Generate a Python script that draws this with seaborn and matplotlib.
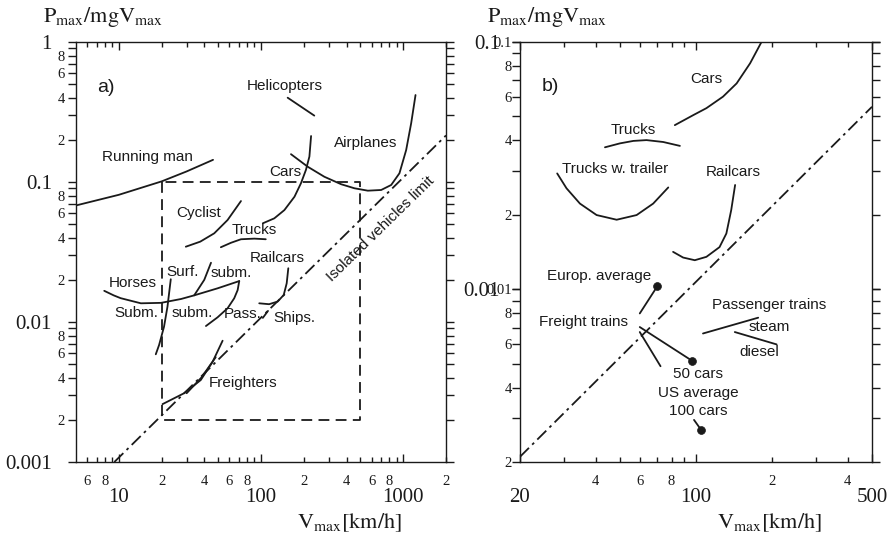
import matplotlib
matplotlib.use("Agg")
import matplotlib.pyplot as plt
import seaborn as sns

# ---------------- panel a) : overview ----------------
running_v = [5, 10, 20, 30, 46]
running_p = [0.068, 0.081, 0.101, 0.119, 0.144]

heli_v = [154, 237]
heli_p = [0.40, 0.298]

cars_a_v = [103, 124, 146, 172, 191, 207, 219, 225]
cars_a_p = [0.0507, 0.055, 0.063, 0.0785, 0.098, 0.122, 0.152, 0.213]

planes_v = [162.5, 213, 279, 366, 454, 564, 700, 823, 941, 1049, 1138, 1221]
planes_p = [0.158, 0.1286, 0.109, 0.0964, 0.0902, 0.0867, 0.0877, 0.0952,
            0.1154, 0.169, 0.263, 0.418]

cyclist_v = [29.6, 37.4, 46.9, 58.2, 72.3]
cyclist_p = [0.0345, 0.0375, 0.043, 0.0535, 0.0731]

trucks_a_v = [52.2, 61.5, 72.3, 89.8, 108]
trucks_a_p = [0.0342, 0.0368, 0.039, 0.0394, 0.039]

horses_v = [7.9, 9.2, 10.3, 14.3, 19.8, 27.4, 33.9, 49.5, 70.3]
horses_p = [0.0167, 0.0155, 0.0148, 0.0136, 0.0137, 0.0146, 0.0155, 0.0174, 0.0196]

subm_v = [70.3, 68.5, 64.8, 58.2, 49.5, 41.0]
subm_p = [0.0196, 0.0169, 0.01477, 0.01253, 0.0108, 0.00936]

surf_v = [33.9, 39.9, 44.5]
surf_p = [0.0155, 0.020, 0.0265]

subm_deep_v = [23.2, 22.0, 20.8, 19.2, 18.2]
subm_deep_p = [0.0202, 0.0129, 0.00926, 0.00685, 0.00588]

railcars_a_v = [155.6, 151.6, 144.5, 131, 114, 97.2]
railcars_a_p = [0.0242, 0.0189, 0.0156, 0.0140, 0.0134, 0.0136]

pass_v = [103, 112]
pass_p = [0.0107, 0.012]

freighters_v = [20.3, 28.8, 37.7, 45.7, 53.7]
freighters_p = [0.00259, 0.0031, 0.00385, 0.0052, 0.00735]

freighters2_v = [30, 38, 48]
freighters2_p = [0.0031, 0.0040, 0.0056]

limit_a_v = [9.3, 2000]
limit_a_p = [0.001, 0.215]

box_v = [20, 20, 500, 500, 20]
box_p = [0.1, 0.002, 0.002, 0.1, 0.1]

# ---------------- panel b) : ground vehicles ----------------
cars_b_v = [82.4, 97.5, 110, 128, 145, 164, 182]
cars_b_p = [0.0461, 0.0506, 0.054, 0.0601, 0.068, 0.082, 0.1]

trucks_b_v = [43.5, 49.9, 56.4, 63.6, 74.1, 86.3]
trucks_b_p = [0.0375, 0.0389, 0.0398, 0.0401, 0.0394, 0.038]

trailer_v = [28.1, 30.6, 34.6, 40.3, 48.4, 58.1, 67.6, 77.6]
trailer_p = [0.0294, 0.0256, 0.0222, 0.01995, 0.0191, 0.01995, 0.0222, 0.0258]

railcars_b_v = [81.1, 88.9, 98.9, 110, 124, 132, 138, 143]
railcars_b_p = [0.01416, 0.01343, 0.0131, 0.01352, 0.0148, 0.0168, 0.0209, 0.0264]

limit_b_v = [20, 500]
limit_b_p = [0.0021, 0.0547]

europ_v = [59.8, 70.3]
europ_p = [0.00798, 0.0103]

freight50_v = [59.8, 96.6]
freight50_p = [0.00703, 0.00513]

freight100_v = [59.8, 72.3]
freight100_p = [0.00671, 0.00488]

us100_v = [98.2, 105]
us100_p = [0.00296, 0.00269]

steam_v = [106.6, 176.6]
steam_p = [0.00662, 0.00767]

diesel_v = [142.6, 209]
diesel_p = [0.00671, 0.00598]

dots_v = [70.3, 96.6, 105]
dots_p = [0.0103, 0.00513, 0.00269]

# ---------------- text ----------------
labels_a = [
    ("a)", 8.1, 0.475, 14),
    ("Helicopters", 146, 0.485, 11),
    ("Airplanes", 548, 0.191, 11),
    ("Running man", 15.9, 0.152, 11),
    ("Cars", 148, 0.1185, 11),
    ("Cyclist", 36.7, 0.0598, 11),
    ("Trucks", 89.8, 0.0454, 11),
    ("Railcars", 131, 0.0285, 11),
    ("Horses", 12.5, 0.0191, 11),
    ("Surf.", 28.1, 0.0229, 11),
    ("subm.", 61.5, 0.0223, 11),
    ("Subm.", 13.2, 0.01165, 11),
    ("subm.", 33.0, 0.01165, 11),
    ("Pass.", 74.3, 0.0114, 11),
    ("Ships.", 172, 0.0106, 11),
    ("Freighters", 74.3, 0.00365, 11),
]

labels_b = [
    ("b)", 26.3, 0.0659, 14),
    ("Cars", 110, 0.0706, 11),
    ("Trucks", 56.4, 0.0441, 11),
    ("Trucks w. trailer", 47.6, 0.0305, 11),
    ("Railcars", 141, 0.0299, 11),
    ("Europ. average", 41.3, 0.0113, 11),
    ("Freight trains", 35.9, 0.00738, 11),
    ("50 cars", 102, 0.00456, 11),
    ("US average", 102, 0.00382, 11),
    ("100 cars", 102, 0.00321, 11),
    ("Passenger trains", 196, 0.00861, 11),
    ("steam", 196, 0.00703, 11),
    ("diesel", 179, 0.00555, 11),
]

# tick positions and labels
xa_major = [10, 100, 1000]
xa_major_lab = ["10", "100", "1000"]
xa_minor = [6, 7, 8, 9, 20, 30, 40, 50, 60, 70, 80, 90,
            200, 300, 400, 500, 600, 700, 800, 900, 2000]
xa_minor_lab = ["6", "", "8", "", "2", "", "4", "", "6", "", "8", "",
                "2", "", "4", "", "6", "", "8", "", "2"]
ya_major = [0.001, 0.01, 0.1, 1]
ya_major_lab = ["0.001", "0.01", "0.1", "1"]
ya_minor = [m * d for d in (0.001, 0.01, 0.1) for m in range(2, 10)]
ya_minor_lab = [{2: "2", 4: "4", 6: "6", 8: "8"}.get(m, "")
                for d in (0.001, 0.01, 0.1) for m in range(2, 10)]

xb_major = [20, 100, 500]
xb_major_lab = ["20", "100", "500"]
xb_minor = [30, 40, 50, 60, 70, 80, 90, 200, 300, 400]
xb_minor_lab = ["", "4", "", "6", "", "8", "", "2", "", "4"]
yb_major = [0.01, 0.1]
yb_major_lab = ["0.01", "0.1"]
yb_minor = [0.002, 0.003, 0.004, 0.005, 0.006, 0.007, 0.008, 0.009, 0.01,
            0.02, 0.03, 0.04, 0.05, 0.06, 0.07, 0.08, 0.09, 0.1]
yb_minor_lab = ["2", "", "4", "", "6", "", "8", "", "0.01",
                "2", "", "4", "", "6", "", "8", "", "0.1"]

# ---------------- style ----------------
sns.set_theme(style="ticks")
plt.rcParams["font.family"] = ["Liberation Sans", "DejaVu Sans"]
plt.rcParams["mathtext.fontset"] = "stix"
plt.rcParams["axes.linewidth"] = 1.0
plt.rcParams["axes.edgecolor"] = "#1a1a1a"

INK = "#1a1a1a"
SERIF = "Liberation Serif"
DASHDOT = (0, (7, 2.5, 1.5, 2.5))
DASHED = (0, (6, 3.5))

fig = plt.figure(figsize=(8.9, 5.38), dpi=100)
ax_a = fig.add_axes([76 / 890, 76 / 538, 370 / 890, 420 / 538])
ax_b = fig.add_axes([520 / 890, 76 / 538, 352 / 890, 420 / 538])


def curve(ax, v, p, ls="-"):
    sns.lineplot(x=v, y=p, ax=ax, sort=False, estimator=None, color=INK,
                 linewidth=1.3, linestyle=ls)


def setup_axes(ax, xlim, ylim, xmaj, xmaj_lab, xmin, xmin_lab,
               ymaj, ymaj_lab, ymin, ymin_lab, ypad_major, ypad_minor):
    ax.set_xscale("log")
    ax.set_yscale("log")
    ax.set_xlim(*xlim)
    ax.set_ylim(*ylim)
    ax.xaxis.remove_overlapping_locs = False
    ax.yaxis.remove_overlapping_locs = False
    ax.set_xticks(xmaj, xmaj_lab, fontfamily=SERIF)
    ax.set_xticks(xmin, xmin_lab, minor=True, fontfamily=SERIF)
    ax.set_yticks(ymaj, ymaj_lab, fontfamily=SERIF)
    ax.set_yticks(ymin, ymin_lab, minor=True, fontfamily=SERIF)
    ax.tick_params(axis="x", which="both", direction="in", top=True,
                   colors=INK, width=1.0)
    ax.tick_params(axis="x", which="major", length=5.5, pad=19, labelsize=15)
    ax.tick_params(axis="x", which="minor", length=3.5, pad=9.5, labelsize=10.5)
    ax.tick_params(axis="y", which="both", direction="out", right=True,
                   colors=INK, width=1.0, length=5.5)
    ax.tick_params(axis="y", which="major", pad=ypad_major, labelsize=15)
    ax.tick_params(axis="y", which="minor", pad=ypad_minor, labelsize=10.5)
    ax.set_xlabel("")
    ax.set_ylabel("")


# panel a
for v, p in [(running_v, running_p), (heli_v, heli_p), (cars_a_v, cars_a_p),
             (planes_v, planes_p), (cyclist_v, cyclist_p),
             (trucks_a_v, trucks_a_p), (horses_v, horses_p),
             (subm_v, subm_p), (surf_v, surf_p), (subm_deep_v, subm_deep_p),
             (railcars_a_v, railcars_a_p), (pass_v, pass_p),
             (freighters_v, freighters_p), (freighters2_v, freighters2_p)]:
    curve(ax_a, v, p)
curve(ax_a, limit_a_v, limit_a_p, DASHDOT)
curve(ax_a, box_v, box_p, DASHED)

for txt, v, p, fs in labels_a:
    ax_a.text(v, p, txt, ha="center", va="center", fontsize=fs, color=INK)
ax_a.text(690, 0.0462, "Isolated vehicles limit", rotation=44.3,
          rotation_mode="anchor", ha="center", va="center", fontsize=11,
          color=INK)

setup_axes(ax_a, (5, 2000), (0.001, 1), xa_major, xa_major_lab, xa_minor,
           xa_minor_lab, ya_major, ya_major_lab, ya_minor, ya_minor_lab,
           11.8, 2.4)

# panel b
for v, p in [(cars_b_v, cars_b_p), (trucks_b_v, trucks_b_p),
             (trailer_v, trailer_p), (railcars_b_v, railcars_b_p),
             (europ_v, europ_p), (freight50_v, freight50_p),
             (freight100_v, freight100_p), (us100_v, us100_p),
             (steam_v, steam_p), (diesel_v, diesel_p)]:
    curve(ax_b, v, p)
curve(ax_b, limit_b_v, limit_b_p, DASHDOT)
sns.scatterplot(x=dots_v, y=dots_p, ax=ax_b, s=32, color=INK,
                edgecolor=INK, linewidth=0.5, zorder=5)

for txt, v, p, fs in labels_b:
    ax_b.text(v, p, txt, ha="center", va="center", fontsize=fs, color=INK)

setup_axes(ax_b, (20, 500), (0.002, 0.1), xb_major, xb_major_lab, xb_minor,
           xb_minor_lab, yb_major, yb_major_lab, yb_minor, yb_minor_lab,
           9.0, 0.5)

# axis titles
ylab = r"$\mathrm{P_{max}/mgV_{max}}$"
xlab = r"$\mathrm{V_{max}[km/h]}$"
fig.text(43 / 890, 1 - 22 / 538, ylab, fontsize=16, va="baseline",
         ha="left", color=INK)
fig.text(487 / 890, 1 - 22 / 538, ylab, fontsize=16, va="baseline",
         ha="left", color=INK)
fig.text(297 / 890, 10 / 538, xlab, fontsize=16, va="baseline",
         ha="left", color=INK)
fig.text(717 / 890, 10 / 538, xlab, fontsize=16, va="baseline",
         ha="left", color=INK)

fig.savefig("out.png", dpi=100, facecolor="white")
